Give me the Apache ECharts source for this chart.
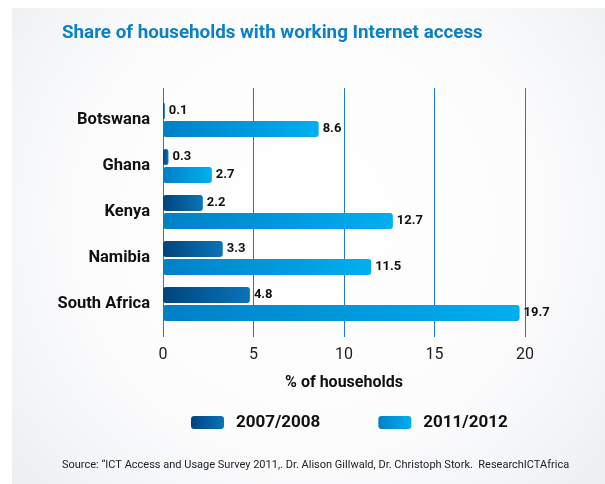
<!DOCTYPE html>
<html><head><meta charset="utf-8">
<script src="https://cdn.jsdelivr.net/npm/echarts@6/dist/echarts.min.js"></script>
<style>html,body{margin:0;padding:0;background:#fff}#c{width:605px;height:484px}</style>
</head><body><div id="c"></div>
<script>
var categories = ['Botswana', 'Ghana', 'Kenya', 'Namibia', 'South Africa'];
var seriesNames = ['2007/2008', '2011/2012'];
var values2007 = [0.1, 0.3, 2.2, 3.3, 4.8];
var values2011 = [8.6, 2.7, 12.7, 11.5, 19.7];
var xTicks = [0, 5, 10, 15, 20];

var FONT = 'Roboto';
var chart = echarts.init(document.getElementById('c'), null, {renderer: 'canvas'});
function grad(a, b) {
  return new echarts.graphic.LinearGradient(0, 0, 1, 0, [{offset: 0, color: a}, {offset: 1, color: b}]);
}
var darkGrad = grad('#00447c', '#0a74b8');
var lightGrad = grad('#0080c6', '#00aff0');
var labelStyle = {show: true, position: 'right', distance: 4, color: '#111', fontFamily: FONT, fontWeight: 'bold', fontSize: 13};

chart.setOption({
  animation: false,
  backgroundColor: '#ffffff',
  graphic: [{
    type: 'rect', z: -10, silent: true,
    shape: {x: 12, y: 8, width: 593, height: 476},
    style: {fill: new echarts.graphic.RadialGradient(0.5, 0.45, 0.8, [{offset: 0, color: '#ffffff'}, {offset: 0.6, color: '#fcfcfd'}, {offset: 1, color: '#edf0f2'}])}
  }, {
    type: 'text', left: 62, top: 24,
    style: {text: 'Share of households with working Internet access', fill: '#0a80c6', font: 'bold 18.8px ' + FONT}
  }, {
    type: 'text', left: 62, top: 460,
    style: {text: 'Source: \u201cICT Access and Usage Survey 2011,. Dr. Alison Gillwald, Dr. Christoph Stork.  ResearchICTAfrica', fill: '#222', font: '11px ' + FONT}
  }],
  legend: {
    left: 186, top: 409, itemWidth: 33, itemHeight: 13, itemGap: 58, icon: 'roundRect',
    textStyle: {fontFamily: FONT, fontWeight: 'bold', fontSize: 17, color: '#111', padding: [0, 0, 0, 7]},
    data: seriesNames
  },
  grid: [
    {left: 163, width: 362, top: 97, height: 230},
    {left: 163, width: 362, top: 88, height: 249}
  ],
  xAxis: [{
    gridIndex: 0, type: 'value', min: 0, max: 20, interval: 5,
    axisLine: {show: false}, axisTick: {show: false}, axisLabel: {show: false}, splitLine: {show: false}
  }, {
    gridIndex: 1, type: 'value', min: 0, max: 20, interval: 5,
    axisLine: {show: false}, axisTick: {show: false},
    axisLabel: {margin: 10, color: '#222', fontFamily: FONT, fontSize: 16, formatter: function (v) { return xTicks.indexOf(v) >= 0 ? String(v) : ''; }},
    splitLine: {show: true, lineStyle: {color: '#1a7fc2', width: 1}},
    name: '% of households', nameLocation: 'middle', nameGap: 38,
    nameTextStyle: {fontFamily: FONT, fontWeight: 'bold', fontSize: 16, color: '#111'}
  }],
  yAxis: [{
    gridIndex: 0, type: 'category', data: categories, inverse: true,
    axisLine: {show: false}, axisTick: {show: false},
    axisLabel: {margin: 13, color: '#111', fontFamily: FONT, fontWeight: 'bold', fontSize: 16.5}
  }, {
    gridIndex: 1, type: 'value', show: false
  }],
  series: [{
    name: seriesNames[0], type: 'bar', xAxisIndex: 0, yAxisIndex: 0,
    data: values2007, barWidth: 16, barGap: '12.5%',
    itemStyle: {color: darkGrad, borderRadius: 3},
    label: labelStyle
  }, {
    name: seriesNames[1], type: 'bar', xAxisIndex: 0, yAxisIndex: 0,
    data: values2011, barWidth: 16, barGap: '12.5%',
    itemStyle: {color: lightGrad, borderRadius: 3},
    label: labelStyle
  }]
});
</script></body></html>
